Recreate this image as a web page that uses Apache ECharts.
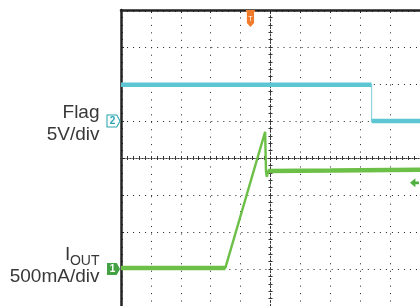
<!DOCTYPE html>
<html>
<head>
<meta charset="utf-8">
<script src="https://cdn.jsdelivr.net/npm/echarts@6/dist/echarts.min.js"></script>
<style>
html, body { margin: 0; padding: 0; background: #fff; }
#chart { width: 420px; height: 306px; }
</style>
</head>
<body>
<div id="chart"></div>
<script>
// time in screen divisions, 0 = centre of the graticule
var flagTime = [-5, 3.38, 3.38, 5];
var flagVolts = [4.9, 4.9, 0, 0];
var ioutTime = [-5, -1.51, -0.18, -0.15, -0.12, -0.08, 2, 5];
var ioutMilliAmps = [15, 15, 1853, 1310, 1245, 1326, 1330, 1340];
// index ranges of the flat (thick, noisy) parts of each trace
var flagFlats = [[0, 1], [2, 3]];
var ioutFlats = [[0, 1], [5, 7]];
var triggerTime = -0.67;
var triggerLevel = 1164; // mA
var flagLabel = ['Flag', '5V/div'];
var ioutLabel = ['I', 'OUT', '500mA/div'];

var FONT = '"Liberation Sans", Arial, sans-serif';
var BLUE = '#5ec5d3', GREEN = '#6cbf47';

function points(t, v) {
    return t.map(function (x, i) { return [x, v[i]]; });
}
// only the flat parts, with a gap where the edge is
function flats(t, v, ranges) {
    var out = [];
    ranges.forEach(function (r, k) {
        if (k > 0) out.push([t[r[0]], '-']);
        for (var i = r[0]; i <= r[1]; i++) out.push([t[i], v[i]]);
    });
    return out;
}

function centreX(inside) {
    return {
        type: 'value', min: -5, max: 5, interval: 1, position: 'bottom',
        axisLine: { show: true, onZero: true, onZeroAxisIndex: 0,
            lineStyle: { color: '#333', width: 1, type: [1, 2] } },
        axisTick: { show: true, inside: inside, length: 2, lineStyle: { color: '#333' } },
        minorTick: { show: true, splitNumber: 5, length: 2, lineStyle: { color: '#333' } },
        axisLabel: { show: false }, splitLine: { show: false }
    };
}
function centreY(inside) {
    return {
        type: 'value', min: -4, max: 4, interval: 1, position: 'left',
        axisLine: { show: true, onZero: true, onZeroAxisIndex: 0,
            lineStyle: { color: '#333', width: 1, type: [1.5, 2.2] } },
        axisTick: { show: true, inside: inside, length: 2, lineStyle: { color: '#333' } },
        minorTick: { show: true, splitNumber: 5, length: 2, lineStyle: { color: '#333' } },
        axisLabel: { show: false }, splitLine: { show: false }
    };
}

var myChart = echarts.init(document.getElementById('chart'));
myChart.setOption({
    animation: false,
    backgroundColor: '#fff',
    grid: { left: 121, top: 10, width: 301, height: 298 },
    xAxis: [
        {   // top frame + vertical dotted grid
            type: 'value', min: -5, max: 5, interval: 1, position: 'top',
            axisLine: { show: true, onZero: false, lineStyle: { color: '#222', width: 2.5 } },
            axisTick: { show: true, inside: true, length: 3, lineStyle: { color: '#222' } },
            minorTick: { show: true, splitNumber: 5, length: 2, lineStyle: { color: '#222' } },
            axisLabel: { show: false },
            splitLine: { show: true, lineStyle: { color: '#222', width: 1, type: [1, 6.45] } }
        },
        centreX(true),
        centreX(false)
    ],
    yAxis: [
        {   // left frame + horizontal dotted grid
            type: 'value', min: -4, max: 4, interval: 1, position: 'left',
            axisLine: { show: true, onZero: false, lineStyle: { color: '#222', width: 2.5 } },
            axisTick: { show: true, inside: true, length: 3, lineStyle: { color: '#222' } },
            minorTick: { show: true, splitNumber: 5, length: 2, lineStyle: { color: '#222' } },
            axisLabel: { show: false },
            splitLine: { show: true, lineStyle: { color: '#222', width: 1, type: [1, 5.02] } }
        },
        // Flag, 5 V/div, ground one division above centre
        { type: 'value', show: false, min: -25, max: 15 },
        // IOUT, 500 mA/div, ground three divisions below centre
        { type: 'value', show: false, min: -500, max: 3500 },
        centreY(true),
        centreY(false)
    ],
    graphic: [
        { type: 'text', x: 99.5, y: 112.5, style: { text: flagLabel[0], font: '19px ' + FONT, fill: '#383838', align: 'right', verticalAlign: 'middle' } },
        { type: 'text', x: 99.5, y: 135, style: { text: flagLabel[1], font: '19px ' + FONT, fill: '#383838', align: 'right', verticalAlign: 'middle' } },
        { type: 'text', x: 65, y: 255, style: { text: ioutLabel[0], font: '19px ' + FONT, fill: '#383838', align: 'left', verticalAlign: 'middle' } },
        { type: 'text', x: 99.5, y: 261, style: { text: ioutLabel[1], font: '14px ' + FONT, fill: '#383838', align: 'right', verticalAlign: 'middle' } },
        { type: 'text', x: 99.5, y: 276.7, style: { text: ioutLabel[2], font: '19px ' + FONT, fill: '#383838', align: 'right', verticalAlign: 'middle' } }
    ],
    series: [
        {
            name: 'Flag edge', type: 'line', xAxisIndex: 0, yAxisIndex: 1, clip: false,
            symbol: 'none', data: points(flagTime, flagVolts),
            lineStyle: { color: '#8fd5de', width: 1.2 },
            markPoint: {
                data: [{
                    coord: [-5, 0], symbol: 'path://M0,0 L9,0 L12,6 L9,12 L0,12 Z',
                    symbolSize: [13, 12], symbolOffset: [-7.5, 0],
                    itemStyle: { color: '#fff', borderColor: '#2aa5b0', borderWidth: 1 },
                    label: { show: true, formatter: '2', color: '#2aa5b0', fontSize: 10, fontWeight: 'bold', offset: [-1, 0] }
                }]
            }
        },
        {
            name: 'Flag', type: 'line', xAxisIndex: 0, yAxisIndex: 1, clip: false,
            symbol: 'none', data: flats(flagTime, flagVolts, flagFlats),
            lineStyle: { color: BLUE, width: 4.5 }
        },
        {
            name: 'IOUT edge', type: 'line', xAxisIndex: 0, yAxisIndex: 2, clip: false,
            symbol: 'none', data: points(ioutTime, ioutMilliAmps),
            lineStyle: { color: GREEN, width: 2.4 },
            markPoint: {
                data: [
                    {
                        coord: [-5, 0], symbol: 'path://M0,0 L9,0 L12,6 L9,12 L0,12 Z',
                        symbolSize: [13, 12], symbolOffset: [-7.5, 0],
                        itemStyle: { color: '#45a244' },
                        label: { show: true, formatter: '1', color: '#fff', fontSize: 10, fontWeight: 'bold', offset: [-1, 0] }
                    },
                    {
                        coord: [triggerTime, 3500],
                        symbol: 'path://M0,0 L10,0 L10,2 L9,2 L9,13 L5,17 L1,13 L1,2 L0,2 Z',
                        symbolSize: [9, 17], symbolOffset: [0, 8.5],
                        itemStyle: { color: '#f07b2b' },
                        label: { show: true, formatter: 'T', color: '#fff', fontSize: 7, offset: [0, 1] }
                    },
                    {
                        coord: [5, triggerLevel],
                        symbol: 'path://M0,5 L6,0 L6,3.5 L10,3.5 L10,6.5 L6,6.5 L6,10 Z',
                        symbolSize: [9, 9], symbolOffset: [-5.5, 0],
                        itemStyle: { color: '#4faf3f' },
                        label: { show: false }
                    }
                ]
            }
        },
        {
            name: 'IOUT', type: 'line', xAxisIndex: 0, yAxisIndex: 2, clip: false,
            symbol: 'none', data: flats(ioutTime, ioutMilliAmps, ioutFlats),
            lineStyle: { color: GREEN, width: 4.5 }
        }
    ]
});
</script>
</body>
</html>
